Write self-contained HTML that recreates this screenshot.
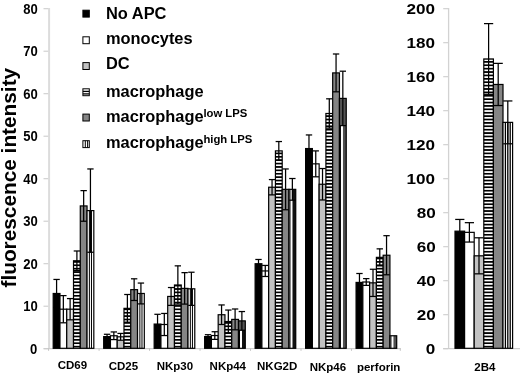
<!DOCTYPE html>
<html><head><meta charset="utf-8"><title>chart</title>
<style>
html,body{margin:0;padding:0;background:#fff;}
body{filter:blur(0.4px);width:520px;height:373px;position:relative;overflow:hidden;font-family:"Liberation Sans",sans-serif;font-weight:bold;color:#000;}
.t{position:absolute;white-space:nowrap;line-height:1;}
.yl{font-size:15px;transform-origin:100% 50%;transform:scaleX(0.87);text-align:right;}
.yr{font-size:15px;transform-origin:100% 50%;transform:scaleX(1.14);text-align:right;}
.lg{font-size:16px;left:105.9px;transform-origin:0 50%;transform:scaleX(1.025);}
.sp{font-size:11.3px;left:203.4px;}
.xl{font-size:11.5px;transform:translateX(-50%);}
</style></head><body>
<svg width="520" height="373" viewBox="0 0 520 373" style="position:absolute;left:0;top:0">
<defs>
<pattern id="hs" width="12" height="3.39" patternUnits="userSpaceOnUse"><rect x="0" y="0" width="12" height="1.7" fill="#000"/></pattern>
</defs>
<line x1="49.1" y1="8" x2="49.1" y2="348.8" stroke="#dcdcdc" stroke-width="2"/>
<line x1="43.7" y1="348.7" x2="400.8" y2="348.7" stroke="#cdcdcd" stroke-width="1.2"/>
<line x1="43.5" y1="348.7" x2="48.2" y2="348.7" stroke="#cdcdcd" stroke-width="1.1"/>
<line x1="43.5" y1="306.2" x2="48.2" y2="306.2" stroke="#cdcdcd" stroke-width="1.1"/>
<line x1="43.5" y1="263.7" x2="48.2" y2="263.7" stroke="#cdcdcd" stroke-width="1.1"/>
<line x1="43.5" y1="221.2" x2="48.2" y2="221.2" stroke="#cdcdcd" stroke-width="1.1"/>
<line x1="43.5" y1="178.7" x2="48.2" y2="178.7" stroke="#cdcdcd" stroke-width="1.1"/>
<line x1="43.5" y1="136.2" x2="48.2" y2="136.2" stroke="#cdcdcd" stroke-width="1.1"/>
<line x1="43.5" y1="93.7" x2="48.2" y2="93.7" stroke="#cdcdcd" stroke-width="1.1"/>
<line x1="43.5" y1="51.2" x2="48.2" y2="51.2" stroke="#cdcdcd" stroke-width="1.1"/>
<line x1="43.5" y1="8.7" x2="48.2" y2="8.7" stroke="#cdcdcd" stroke-width="1.1"/>
<line x1="48.6" y1="348.3" x2="48.6" y2="350.8" stroke="#c4c4c4" stroke-width="1"/>
<line x1="99.08" y1="348.3" x2="99.08" y2="350.8" stroke="#c4c4c4" stroke-width="1"/>
<line x1="149.56" y1="348.3" x2="149.56" y2="350.8" stroke="#c4c4c4" stroke-width="1"/>
<line x1="200.04" y1="348.3" x2="200.04" y2="350.8" stroke="#c4c4c4" stroke-width="1"/>
<line x1="250.52" y1="348.3" x2="250.52" y2="350.8" stroke="#c4c4c4" stroke-width="1"/>
<line x1="301" y1="348.3" x2="301" y2="350.8" stroke="#c4c4c4" stroke-width="1"/>
<line x1="351.48" y1="348.3" x2="351.48" y2="350.8" stroke="#c4c4c4" stroke-width="1"/>
<line x1="400.3" y1="348.3" x2="400.3" y2="350.8" stroke="#c4c4c4" stroke-width="1"/>
<line x1="448.6" y1="8" x2="448.6" y2="348.8" stroke="#d2d2d2" stroke-width="1.3"/>
<line x1="443.2" y1="348.7" x2="520" y2="348.7" stroke="#cdcdcd" stroke-width="1.2"/>
<line x1="443.2" y1="348.7" x2="448" y2="348.7" stroke="#cdcdcd" stroke-width="1.1"/>
<line x1="443.2" y1="314.7" x2="448" y2="314.7" stroke="#cdcdcd" stroke-width="1.1"/>
<line x1="443.2" y1="280.7" x2="448" y2="280.7" stroke="#cdcdcd" stroke-width="1.1"/>
<line x1="443.2" y1="246.7" x2="448" y2="246.7" stroke="#cdcdcd" stroke-width="1.1"/>
<line x1="443.2" y1="212.7" x2="448" y2="212.7" stroke="#cdcdcd" stroke-width="1.1"/>
<line x1="443.2" y1="178.7" x2="448" y2="178.7" stroke="#cdcdcd" stroke-width="1.1"/>
<line x1="443.2" y1="144.7" x2="448" y2="144.7" stroke="#cdcdcd" stroke-width="1.1"/>
<line x1="443.2" y1="110.7" x2="448" y2="110.7" stroke="#cdcdcd" stroke-width="1.1"/>
<line x1="443.2" y1="76.7" x2="448" y2="76.7" stroke="#cdcdcd" stroke-width="1.1"/>
<line x1="443.2" y1="42.7" x2="448" y2="42.7" stroke="#cdcdcd" stroke-width="1.1"/>
<line x1="443.2" y1="8.7" x2="448" y2="8.7" stroke="#cdcdcd" stroke-width="1.1"/>
<rect x="53.2" y="293.48" width="6.77" height="54.82" fill="#000"/>
<rect x="53.2" y="293.48" width="6.77" height="54.82" fill="none" stroke="#000" stroke-width="1.2"/>
<line x1="56.59" y1="279.45" x2="56.59" y2="307.5" stroke="#000" stroke-width="1.25"/>
<line x1="53.4" y1="279.45" x2="59.77" y2="279.45" stroke="#000" stroke-width="1.25"/>
<line x1="53.4" y1="307.5" x2="59.77" y2="307.5" stroke="#000" stroke-width="1.25"/>
<rect x="59.97" y="309.2" width="6.77" height="39.1" fill="#fff"/>
<rect x="59.97" y="309.2" width="6.77" height="39.1" fill="none" stroke="#000" stroke-width="1.2"/>
<line x1="63.35" y1="295.6" x2="63.35" y2="322.8" stroke="#000" stroke-width="1.25"/>
<line x1="60.17" y1="295.6" x2="66.54" y2="295.6" stroke="#000" stroke-width="1.25"/>
<line x1="60.17" y1="322.8" x2="66.54" y2="322.8" stroke="#000" stroke-width="1.25"/>
<rect x="66.74" y="309.2" width="6.77" height="10.62" fill="#f0f0f0"/>
<rect x="66.74" y="319.82" width="6.77" height="28.48" fill="#c2c2c2"/>
<rect x="66.74" y="309.2" width="6.77" height="39.1" fill="none" stroke="#000" stroke-width="1.2"/>
<line x1="70.12" y1="298.58" x2="70.12" y2="319.82" stroke="#000" stroke-width="1.25"/>
<line x1="66.94" y1="298.58" x2="73.31" y2="298.58" stroke="#000" stroke-width="1.25"/>
<line x1="66.94" y1="319.82" x2="73.31" y2="319.82" stroke="#000" stroke-width="1.25"/>
<rect x="73.51" y="260.75" width="6.77" height="87.55" fill="#fff"/>
<rect x="73.51" y="260.75" width="6.77" height="87.55" fill="url(#hs)"/>
<rect x="73.51" y="260.75" width="6.77" height="87.55" fill="none" stroke="#000" stroke-width="1.2"/>
<line x1="76.9" y1="250.98" x2="76.9" y2="270.52" stroke="#000" stroke-width="1.25"/>
<line x1="73.71" y1="250.98" x2="80.08" y2="250.98" stroke="#000" stroke-width="1.25"/>
<line x1="73.71" y1="270.52" x2="80.08" y2="270.52" stroke="#000" stroke-width="1.25"/>
<rect x="80.28" y="205.93" width="6.77" height="142.38" fill="#858585"/>
<rect x="80.28" y="205.93" width="6.77" height="142.38" fill="none" stroke="#000" stroke-width="1.2"/>
<line x1="83.66" y1="190.62" x2="83.66" y2="221.23" stroke="#000" stroke-width="1.25"/>
<line x1="80.48" y1="190.62" x2="86.85" y2="190.62" stroke="#000" stroke-width="1.25"/>
<line x1="80.48" y1="221.23" x2="86.85" y2="221.23" stroke="#000" stroke-width="1.25"/>
<rect x="87.05" y="210.6" width="6.77" height="137.7" fill="#fff"/>
<line x1="89.39" y1="210.6" x2="89.39" y2="348.3" stroke="#000" stroke-width="1.0"/>
<line x1="91.48" y1="210.6" x2="91.48" y2="348.3" stroke="#000" stroke-width="1.0"/>
<rect x="87.05" y="210.6" width="6.77" height="137.7" fill="none" stroke="#000" stroke-width="1.2"/>
<line x1="90.44" y1="168.95" x2="90.44" y2="252.25" stroke="#000" stroke-width="1.25"/>
<line x1="87.25" y1="168.95" x2="93.62" y2="168.95" stroke="#000" stroke-width="1.25"/>
<line x1="87.25" y1="252.25" x2="93.62" y2="252.25" stroke="#000" stroke-width="1.25"/>
<rect x="103.68" y="336.61" width="6.77" height="11.69" fill="#000"/>
<rect x="103.68" y="336.61" width="6.77" height="11.69" fill="none" stroke="#000" stroke-width="1.2"/>
<line x1="107.06" y1="334.28" x2="107.06" y2="338.95" stroke="#000" stroke-width="1.25"/>
<line x1="103.88" y1="334.28" x2="110.25" y2="334.28" stroke="#000" stroke-width="1.25"/>
<line x1="103.88" y1="338.95" x2="110.25" y2="338.95" stroke="#000" stroke-width="1.25"/>
<rect x="110.45" y="335.76" width="6.77" height="12.54" fill="#fff"/>
<rect x="110.45" y="335.76" width="6.77" height="12.54" fill="none" stroke="#000" stroke-width="1.2"/>
<line x1="113.84" y1="331.94" x2="113.84" y2="339.59" stroke="#000" stroke-width="1.25"/>
<line x1="110.65" y1="331.94" x2="117.02" y2="331.94" stroke="#000" stroke-width="1.25"/>
<line x1="110.65" y1="339.59" x2="117.02" y2="339.59" stroke="#000" stroke-width="1.25"/>
<rect x="117.22" y="336.82" width="6.77" height="3.4" fill="#f0f0f0"/>
<rect x="117.22" y="340.23" width="6.77" height="8.07" fill="#c2c2c2"/>
<rect x="117.22" y="336.82" width="6.77" height="11.48" fill="none" stroke="#000" stroke-width="1.2"/>
<line x1="120.6" y1="333.43" x2="120.6" y2="340.23" stroke="#000" stroke-width="1.25"/>
<line x1="117.42" y1="333.43" x2="123.79" y2="333.43" stroke="#000" stroke-width="1.25"/>
<line x1="117.42" y1="340.23" x2="123.79" y2="340.23" stroke="#000" stroke-width="1.25"/>
<rect x="123.99" y="308.35" width="6.77" height="39.95" fill="#fff"/>
<rect x="123.99" y="308.35" width="6.77" height="39.95" fill="url(#hs)"/>
<rect x="123.99" y="308.35" width="6.77" height="39.95" fill="none" stroke="#000" stroke-width="1.2"/>
<line x1="127.38" y1="294.5" x2="127.38" y2="322.2" stroke="#000" stroke-width="1.25"/>
<line x1="124.19" y1="294.5" x2="130.56" y2="294.5" stroke="#000" stroke-width="1.25"/>
<line x1="124.19" y1="322.2" x2="130.56" y2="322.2" stroke="#000" stroke-width="1.25"/>
<rect x="130.76" y="289.65" width="6.77" height="58.65" fill="#858585"/>
<rect x="130.76" y="289.65" width="6.77" height="58.65" fill="none" stroke="#000" stroke-width="1.2"/>
<line x1="134.14" y1="278.81" x2="134.14" y2="300.49" stroke="#000" stroke-width="1.25"/>
<line x1="130.96" y1="278.81" x2="137.33" y2="278.81" stroke="#000" stroke-width="1.25"/>
<line x1="130.96" y1="300.49" x2="137.33" y2="300.49" stroke="#000" stroke-width="1.25"/>
<rect x="137.53" y="293.48" width="6.77" height="54.82" fill="#fff"/>
<line x1="139.86" y1="293.48" x2="139.86" y2="348.3" stroke="#000" stroke-width="1.0"/>
<line x1="141.97" y1="293.48" x2="141.97" y2="348.3" stroke="#000" stroke-width="1.0"/>
<rect x="137.53" y="293.48" width="6.77" height="54.82" fill="none" stroke="#000" stroke-width="1.2"/>
<line x1="140.92" y1="283.06" x2="140.92" y2="303.89" stroke="#000" stroke-width="1.25"/>
<line x1="137.73" y1="283.06" x2="144.1" y2="283.06" stroke="#000" stroke-width="1.25"/>
<line x1="137.73" y1="303.89" x2="144.1" y2="303.89" stroke="#000" stroke-width="1.25"/>
<rect x="154.16" y="324.07" width="6.77" height="24.23" fill="#000"/>
<rect x="154.16" y="324.07" width="6.77" height="24.23" fill="none" stroke="#000" stroke-width="1.2"/>
<line x1="157.55" y1="314.3" x2="157.55" y2="333.85" stroke="#000" stroke-width="1.25"/>
<line x1="154.36" y1="314.3" x2="160.73" y2="314.3" stroke="#000" stroke-width="1.25"/>
<line x1="154.36" y1="333.85" x2="160.73" y2="333.85" stroke="#000" stroke-width="1.25"/>
<rect x="160.93" y="324.5" width="6.77" height="23.8" fill="#fff"/>
<rect x="160.93" y="324.5" width="6.77" height="23.8" fill="none" stroke="#000" stroke-width="1.2"/>
<line x1="164.31" y1="313.45" x2="164.31" y2="335.55" stroke="#000" stroke-width="1.25"/>
<line x1="161.13" y1="313.45" x2="167.5" y2="313.45" stroke="#000" stroke-width="1.25"/>
<line x1="161.13" y1="335.55" x2="167.5" y2="335.55" stroke="#000" stroke-width="1.25"/>
<rect x="167.7" y="296.45" width="6.77" height="51.85" fill="#c2c2c2"/>
<rect x="167.7" y="296.45" width="6.77" height="51.85" fill="none" stroke="#000" stroke-width="1.2"/>
<line x1="171.08" y1="287.53" x2="171.08" y2="305.38" stroke="#000" stroke-width="1.25"/>
<line x1="167.9" y1="287.53" x2="174.27" y2="287.53" stroke="#000" stroke-width="1.25"/>
<line x1="167.9" y1="305.38" x2="174.27" y2="305.38" stroke="#000" stroke-width="1.25"/>
<rect x="174.47" y="284.98" width="6.77" height="63.32" fill="#fff"/>
<rect x="174.47" y="284.98" width="6.77" height="63.32" fill="url(#hs)"/>
<rect x="174.47" y="284.98" width="6.77" height="63.32" fill="none" stroke="#000" stroke-width="1.2"/>
<line x1="177.86" y1="265.85" x2="177.86" y2="304.1" stroke="#000" stroke-width="1.25"/>
<line x1="174.67" y1="265.85" x2="181.04" y2="265.85" stroke="#000" stroke-width="1.25"/>
<line x1="174.67" y1="304.1" x2="181.04" y2="304.1" stroke="#000" stroke-width="1.25"/>
<rect x="181.24" y="288.38" width="6.77" height="59.93" fill="#858585"/>
<rect x="181.24" y="288.38" width="6.77" height="59.93" fill="none" stroke="#000" stroke-width="1.2"/>
<line x1="184.62" y1="272.65" x2="184.62" y2="304.1" stroke="#000" stroke-width="1.25"/>
<line x1="181.44" y1="272.65" x2="187.81" y2="272.65" stroke="#000" stroke-width="1.25"/>
<line x1="181.44" y1="304.1" x2="187.81" y2="304.1" stroke="#000" stroke-width="1.25"/>
<rect x="188.01" y="288.8" width="6.77" height="59.5" fill="#fff"/>
<line x1="190.34" y1="288.8" x2="190.34" y2="348.3" stroke="#000" stroke-width="1.0"/>
<line x1="192.44" y1="288.8" x2="192.44" y2="348.3" stroke="#000" stroke-width="1.0"/>
<rect x="188.01" y="288.8" width="6.77" height="59.5" fill="none" stroke="#000" stroke-width="1.2"/>
<line x1="191.39" y1="272.23" x2="191.39" y2="305.38" stroke="#000" stroke-width="1.25"/>
<line x1="188.21" y1="272.23" x2="194.58" y2="272.23" stroke="#000" stroke-width="1.25"/>
<line x1="188.21" y1="305.38" x2="194.58" y2="305.38" stroke="#000" stroke-width="1.25"/>
<rect x="204.64" y="336.61" width="6.77" height="11.69" fill="#000"/>
<rect x="204.64" y="336.61" width="6.77" height="11.69" fill="none" stroke="#000" stroke-width="1.2"/>
<line x1="208.02" y1="334.7" x2="208.02" y2="338.53" stroke="#000" stroke-width="1.25"/>
<line x1="204.84" y1="334.7" x2="211.21" y2="334.7" stroke="#000" stroke-width="1.25"/>
<line x1="204.84" y1="338.53" x2="211.21" y2="338.53" stroke="#000" stroke-width="1.25"/>
<rect x="211.41" y="335.55" width="6.77" height="12.75" fill="#fff"/>
<rect x="211.41" y="335.55" width="6.77" height="12.75" fill="none" stroke="#000" stroke-width="1.2"/>
<line x1="214.8" y1="331.73" x2="214.8" y2="339.38" stroke="#000" stroke-width="1.25"/>
<line x1="211.61" y1="331.73" x2="217.98" y2="331.73" stroke="#000" stroke-width="1.25"/>
<line x1="211.61" y1="339.38" x2="217.98" y2="339.38" stroke="#000" stroke-width="1.25"/>
<rect x="218.18" y="314.73" width="6.77" height="33.57" fill="#c2c2c2"/>
<rect x="218.18" y="314.73" width="6.77" height="33.57" fill="none" stroke="#000" stroke-width="1.2"/>
<line x1="221.56" y1="304.95" x2="221.56" y2="324.5" stroke="#000" stroke-width="1.25"/>
<line x1="218.38" y1="304.95" x2="224.75" y2="304.95" stroke="#000" stroke-width="1.25"/>
<line x1="218.38" y1="324.5" x2="224.75" y2="324.5" stroke="#000" stroke-width="1.25"/>
<rect x="224.95" y="321.53" width="6.77" height="26.77" fill="#fff"/>
<rect x="224.95" y="321.53" width="6.77" height="26.77" fill="url(#hs)"/>
<rect x="224.95" y="321.53" width="6.77" height="26.77" fill="none" stroke="#000" stroke-width="1.2"/>
<line x1="228.33" y1="310.05" x2="228.33" y2="333" stroke="#000" stroke-width="1.25"/>
<line x1="225.15" y1="310.05" x2="231.52" y2="310.05" stroke="#000" stroke-width="1.25"/>
<line x1="225.15" y1="333" x2="231.52" y2="333" stroke="#000" stroke-width="1.25"/>
<rect x="231.72" y="319.4" width="6.77" height="28.9" fill="#858585"/>
<rect x="231.72" y="319.4" width="6.77" height="28.9" fill="none" stroke="#000" stroke-width="1.2"/>
<line x1="235.1" y1="308.99" x2="235.1" y2="329.81" stroke="#000" stroke-width="1.25"/>
<line x1="231.92" y1="308.99" x2="238.29" y2="308.99" stroke="#000" stroke-width="1.25"/>
<line x1="231.92" y1="329.81" x2="238.29" y2="329.81" stroke="#000" stroke-width="1.25"/>
<rect x="238.49" y="320.89" width="6.77" height="27.41" fill="#fff"/>
<rect x="238.99" y="320.89" width="1" height="27.41" fill="#000"/>
<rect x="242.01" y="320.89" width="3.25" height="27.41" fill="#111"/>
<rect x="238.49" y="320.89" width="6.77" height="9.35" fill="#555"/>
<rect x="238.49" y="320.89" width="6.77" height="27.41" fill="none" stroke="#000" stroke-width="1.2"/>
<line x1="241.88" y1="311.54" x2="241.88" y2="330.24" stroke="#000" stroke-width="1.25"/>
<line x1="238.69" y1="311.54" x2="245.06" y2="311.54" stroke="#000" stroke-width="1.25"/>
<line x1="238.69" y1="330.24" x2="245.06" y2="330.24" stroke="#000" stroke-width="1.25"/>
<rect x="255.12" y="263.73" width="6.77" height="84.57" fill="#000"/>
<rect x="255.12" y="263.73" width="6.77" height="84.57" fill="none" stroke="#000" stroke-width="1.2"/>
<line x1="258.5" y1="259.48" x2="258.5" y2="267.98" stroke="#000" stroke-width="1.25"/>
<line x1="255.32" y1="259.48" x2="261.69" y2="259.48" stroke="#000" stroke-width="1.25"/>
<line x1="255.32" y1="267.98" x2="261.69" y2="267.98" stroke="#000" stroke-width="1.25"/>
<rect x="261.89" y="270.95" width="6.77" height="77.35" fill="#fff"/>
<rect x="261.89" y="270.95" width="6.77" height="77.35" fill="none" stroke="#000" stroke-width="1.2"/>
<line x1="265.27" y1="265.43" x2="265.27" y2="276.48" stroke="#000" stroke-width="1.25"/>
<line x1="262.09" y1="265.43" x2="268.46" y2="265.43" stroke="#000" stroke-width="1.25"/>
<line x1="262.09" y1="276.48" x2="268.46" y2="276.48" stroke="#000" stroke-width="1.25"/>
<rect x="268.66" y="187.23" width="6.77" height="161.07" fill="#c2c2c2"/>
<rect x="268.66" y="187.23" width="6.77" height="161.07" fill="none" stroke="#000" stroke-width="1.2"/>
<line x1="272.05" y1="179.58" x2="272.05" y2="194.88" stroke="#000" stroke-width="1.25"/>
<line x1="268.86" y1="179.58" x2="275.23" y2="179.58" stroke="#000" stroke-width="1.25"/>
<line x1="268.86" y1="194.88" x2="275.23" y2="194.88" stroke="#000" stroke-width="1.25"/>
<rect x="275.43" y="150.89" width="6.77" height="197.41" fill="#fff"/>
<rect x="275.43" y="150.89" width="6.77" height="197.41" fill="url(#hs)"/>
<rect x="275.43" y="150.89" width="6.77" height="197.41" fill="none" stroke="#000" stroke-width="1.2"/>
<line x1="278.81" y1="141.54" x2="278.81" y2="160.24" stroke="#000" stroke-width="1.25"/>
<line x1="275.63" y1="141.54" x2="282" y2="141.54" stroke="#000" stroke-width="1.25"/>
<line x1="275.63" y1="160.24" x2="282" y2="160.24" stroke="#000" stroke-width="1.25"/>
<rect x="282.2" y="189.35" width="6.77" height="158.95" fill="#858585"/>
<rect x="282.2" y="189.35" width="6.77" height="158.95" fill="none" stroke="#000" stroke-width="1.2"/>
<line x1="285.58" y1="168.95" x2="285.58" y2="209.75" stroke="#000" stroke-width="1.25"/>
<line x1="282.4" y1="168.95" x2="288.77" y2="168.95" stroke="#000" stroke-width="1.25"/>
<line x1="282.4" y1="209.75" x2="288.77" y2="209.75" stroke="#000" stroke-width="1.25"/>
<rect x="288.97" y="189.35" width="6.77" height="158.95" fill="#fff"/>
<rect x="289.47" y="189.35" width="1" height="158.95" fill="#000"/>
<rect x="292.49" y="189.35" width="3.25" height="158.95" fill="#111"/>
<rect x="288.97" y="189.35" width="6.77" height="158.95" fill="none" stroke="#000" stroke-width="1.2"/>
<line x1="292.36" y1="178.51" x2="292.36" y2="200.19" stroke="#000" stroke-width="1.25"/>
<line x1="289.17" y1="178.51" x2="295.54" y2="178.51" stroke="#000" stroke-width="1.25"/>
<line x1="289.17" y1="200.19" x2="295.54" y2="200.19" stroke="#000" stroke-width="1.25"/>
<rect x="305.6" y="148.55" width="6.77" height="199.75" fill="#000"/>
<rect x="305.6" y="148.55" width="6.77" height="199.75" fill="none" stroke="#000" stroke-width="1.2"/>
<line x1="308.98" y1="134.95" x2="308.98" y2="162.15" stroke="#000" stroke-width="1.25"/>
<line x1="305.8" y1="134.95" x2="312.17" y2="134.95" stroke="#000" stroke-width="1.25"/>
<line x1="305.8" y1="162.15" x2="312.17" y2="162.15" stroke="#000" stroke-width="1.25"/>
<rect x="312.37" y="163.85" width="6.77" height="184.45" fill="#fff"/>
<rect x="312.37" y="163.85" width="6.77" height="184.45" fill="none" stroke="#000" stroke-width="1.2"/>
<line x1="315.75" y1="150.89" x2="315.75" y2="176.81" stroke="#000" stroke-width="1.25"/>
<line x1="312.57" y1="150.89" x2="318.94" y2="150.89" stroke="#000" stroke-width="1.25"/>
<line x1="312.57" y1="176.81" x2="318.94" y2="176.81" stroke="#000" stroke-width="1.25"/>
<rect x="319.14" y="184.25" width="6.77" height="164.05" fill="#c2c2c2"/>
<rect x="319.14" y="184.25" width="6.77" height="164.05" fill="none" stroke="#000" stroke-width="1.2"/>
<line x1="322.52" y1="168.53" x2="322.52" y2="199.98" stroke="#000" stroke-width="1.25"/>
<line x1="319.34" y1="168.53" x2="325.71" y2="168.53" stroke="#000" stroke-width="1.25"/>
<line x1="319.34" y1="199.98" x2="325.71" y2="199.98" stroke="#000" stroke-width="1.25"/>
<rect x="325.91" y="113.49" width="6.77" height="234.81" fill="#fff"/>
<rect x="325.91" y="113.49" width="6.77" height="234.81" fill="url(#hs)"/>
<rect x="325.91" y="113.49" width="6.77" height="234.81" fill="none" stroke="#000" stroke-width="1.2"/>
<line x1="329.29" y1="98.82" x2="329.29" y2="128.15" stroke="#000" stroke-width="1.25"/>
<line x1="326.11" y1="98.82" x2="332.48" y2="98.82" stroke="#000" stroke-width="1.25"/>
<line x1="326.11" y1="128.15" x2="332.48" y2="128.15" stroke="#000" stroke-width="1.25"/>
<rect x="332.68" y="72.9" width="6.77" height="275.4" fill="#858585"/>
<rect x="332.68" y="72.9" width="6.77" height="275.4" fill="none" stroke="#000" stroke-width="1.2"/>
<line x1="336.06" y1="53.99" x2="336.06" y2="91.81" stroke="#000" stroke-width="1.25"/>
<line x1="332.88" y1="53.99" x2="339.25" y2="53.99" stroke="#000" stroke-width="1.25"/>
<line x1="332.88" y1="91.81" x2="339.25" y2="91.81" stroke="#000" stroke-width="1.25"/>
<rect x="339.45" y="98.4" width="6.77" height="249.9" fill="#fff"/>
<rect x="339.95" y="98.4" width="1" height="249.9" fill="#000"/>
<rect x="342.97" y="98.4" width="3.25" height="249.9" fill="#505050"/>
<rect x="339.45" y="98.4" width="6.77" height="27.2" fill="#555"/>
<rect x="339.45" y="98.4" width="6.77" height="249.9" fill="none" stroke="#000" stroke-width="1.2"/>
<line x1="342.83" y1="71.2" x2="342.83" y2="125.6" stroke="#000" stroke-width="1.25"/>
<line x1="339.65" y1="71.2" x2="346.02" y2="71.2" stroke="#000" stroke-width="1.25"/>
<line x1="339.65" y1="125.6" x2="346.02" y2="125.6" stroke="#000" stroke-width="1.25"/>
<rect x="356.08" y="282.43" width="6.77" height="65.88" fill="#000"/>
<rect x="356.08" y="282.43" width="6.77" height="65.88" fill="none" stroke="#000" stroke-width="1.2"/>
<line x1="359.46" y1="273.5" x2="359.46" y2="291.35" stroke="#000" stroke-width="1.25"/>
<line x1="356.28" y1="273.5" x2="362.65" y2="273.5" stroke="#000" stroke-width="1.25"/>
<line x1="356.28" y1="291.35" x2="362.65" y2="291.35" stroke="#000" stroke-width="1.25"/>
<rect x="362.85" y="282" width="6.77" height="66.3" fill="#fff"/>
<rect x="362.85" y="282" width="6.77" height="66.3" fill="none" stroke="#000" stroke-width="1.2"/>
<line x1="366.23" y1="278.6" x2="366.23" y2="285.4" stroke="#000" stroke-width="1.25"/>
<line x1="363.05" y1="278.6" x2="369.42" y2="278.6" stroke="#000" stroke-width="1.25"/>
<line x1="363.05" y1="285.4" x2="369.42" y2="285.4" stroke="#000" stroke-width="1.25"/>
<rect x="369.62" y="282.85" width="6.77" height="65.45" fill="#c2c2c2"/>
<rect x="369.62" y="282.85" width="6.77" height="65.45" fill="none" stroke="#000" stroke-width="1.2"/>
<line x1="373" y1="269.25" x2="373" y2="296.45" stroke="#000" stroke-width="1.25"/>
<line x1="369.82" y1="269.25" x2="376.19" y2="269.25" stroke="#000" stroke-width="1.25"/>
<line x1="369.82" y1="296.45" x2="376.19" y2="296.45" stroke="#000" stroke-width="1.25"/>
<rect x="376.39" y="257.35" width="6.77" height="90.95" fill="#fff"/>
<rect x="376.39" y="257.35" width="6.77" height="90.95" fill="url(#hs)"/>
<rect x="376.39" y="257.35" width="6.77" height="90.95" fill="none" stroke="#000" stroke-width="1.2"/>
<line x1="379.77" y1="248.85" x2="379.77" y2="265.85" stroke="#000" stroke-width="1.25"/>
<line x1="376.59" y1="248.85" x2="382.96" y2="248.85" stroke="#000" stroke-width="1.25"/>
<line x1="376.59" y1="265.85" x2="382.96" y2="265.85" stroke="#000" stroke-width="1.25"/>
<rect x="383.16" y="255.23" width="6.77" height="93.07" fill="#858585"/>
<rect x="383.16" y="255.23" width="6.77" height="93.07" fill="none" stroke="#000" stroke-width="1.2"/>
<line x1="386.54" y1="235.68" x2="386.54" y2="274.78" stroke="#000" stroke-width="1.25"/>
<line x1="383.36" y1="235.68" x2="389.73" y2="235.68" stroke="#000" stroke-width="1.25"/>
<line x1="383.36" y1="274.78" x2="389.73" y2="274.78" stroke="#000" stroke-width="1.25"/>
<rect x="389.93" y="335.76" width="6.77" height="12.54" fill="#fff"/>
<rect x="390.43" y="335.76" width="1" height="12.54" fill="#000"/>
<rect x="393.45" y="335.76" width="3.25" height="12.54" fill="#505050"/>
<rect x="389.93" y="335.76" width="6.77" height="12.54" fill="none" stroke="#000" stroke-width="1.2"/>
<rect x="455" y="231.17" width="9.6" height="117.13" fill="#000"/>
<rect x="455" y="231.17" width="9.6" height="117.13" fill="none" stroke="#000" stroke-width="1.2"/>
<line x1="459.8" y1="219.44" x2="459.8" y2="242.9" stroke="#000" stroke-width="1.25"/>
<line x1="455.2" y1="219.44" x2="464.4" y2="219.44" stroke="#000" stroke-width="1.25"/>
<line x1="455.2" y1="242.9" x2="464.4" y2="242.9" stroke="#000" stroke-width="1.25"/>
<rect x="464.6" y="232.36" width="9.6" height="115.94" fill="#fff"/>
<rect x="464.6" y="232.36" width="9.6" height="115.94" fill="none" stroke="#000" stroke-width="1.2"/>
<line x1="469.4" y1="222.67" x2="469.4" y2="242.05" stroke="#000" stroke-width="1.25"/>
<line x1="464.8" y1="222.67" x2="474" y2="222.67" stroke="#000" stroke-width="1.25"/>
<line x1="464.8" y1="242.05" x2="474" y2="242.05" stroke="#000" stroke-width="1.25"/>
<rect x="474.2" y="255.82" width="9.6" height="92.48" fill="#c2c2c2"/>
<rect x="474.2" y="255.82" width="9.6" height="92.48" fill="none" stroke="#000" stroke-width="1.2"/>
<line x1="479" y1="237.8" x2="479" y2="273.84" stroke="#000" stroke-width="1.25"/>
<line x1="474.4" y1="237.8" x2="483.6" y2="237.8" stroke="#000" stroke-width="1.25"/>
<line x1="474.4" y1="273.84" x2="483.6" y2="273.84" stroke="#000" stroke-width="1.25"/>
<rect x="483.8" y="58.96" width="9.6" height="289.34" fill="#fff"/>
<rect x="483.8" y="58.96" width="9.6" height="289.34" fill="url(#hs)"/>
<rect x="483.8" y="58.96" width="9.6" height="289.34" fill="none" stroke="#000" stroke-width="1.2"/>
<line x1="488.6" y1="23.6" x2="488.6" y2="94.32" stroke="#000" stroke-width="1.25"/>
<line x1="484" y1="23.6" x2="493.2" y2="23.6" stroke="#000" stroke-width="1.25"/>
<line x1="484" y1="94.32" x2="493.2" y2="94.32" stroke="#000" stroke-width="1.25"/>
<rect x="493.4" y="84.46" width="9.6" height="263.84" fill="#858585"/>
<rect x="493.4" y="84.46" width="9.6" height="263.84" fill="none" stroke="#000" stroke-width="1.2"/>
<line x1="498.2" y1="63.38" x2="498.2" y2="105.54" stroke="#000" stroke-width="1.25"/>
<line x1="493.6" y1="63.38" x2="502.8" y2="63.38" stroke="#000" stroke-width="1.25"/>
<line x1="493.6" y1="105.54" x2="502.8" y2="105.54" stroke="#000" stroke-width="1.25"/>
<rect x="503" y="122.37" width="9.6" height="225.93" fill="#fff"/>
<line x1="505.4" y1="122.37" x2="505.4" y2="348.3" stroke="#000" stroke-width="1.3"/>
<line x1="507.8" y1="122.37" x2="507.8" y2="348.3" stroke="#000" stroke-width="1.3"/>
<line x1="510.2" y1="122.37" x2="510.2" y2="348.3" stroke="#000" stroke-width="1.3"/>
<rect x="503" y="122.37" width="9.6" height="225.93" fill="none" stroke="#000" stroke-width="1.2"/>
<line x1="507.8" y1="100.95" x2="507.8" y2="143.79" stroke="#000" stroke-width="1.25"/>
<line x1="503.2" y1="100.95" x2="512.4" y2="100.95" stroke="#000" stroke-width="1.25"/>
<line x1="503.2" y1="143.79" x2="512.4" y2="143.79" stroke="#000" stroke-width="1.25"/>
<rect x="82.9" y="10.2" width="6.4" height="6.9" fill="#000" stroke="#000" stroke-width="1"/>
<rect x="82.9" y="36.8" width="6.4" height="6.9" fill="#fff" stroke="#000" stroke-width="1"/>
<rect x="82.9" y="62.6" width="6.4" height="6.9" fill="#c2c2c2" stroke="#000" stroke-width="1"/>
<rect x="82.9" y="88.8" width="6.4" height="6.9" fill="#fff" stroke="#000" stroke-width="1"/>
<line x1="82.9" y1="91.4" x2="89.30000000000001" y2="91.4" stroke="#000" stroke-width="1.3"/>
<line x1="82.9" y1="93.9" x2="89.30000000000001" y2="93.9" stroke="#000" stroke-width="1.3"/>
<rect x="82.9" y="114.1" width="6.4" height="6.9" fill="#858585" stroke="#000" stroke-width="1"/>
<rect x="82.9" y="140.7" width="6.4" height="6.9" fill="#fff" stroke="#000" stroke-width="1"/>
<line x1="85.3" y1="140.7" x2="85.3" y2="147.6" stroke="#000" stroke-width="1"/>
<line x1="87.6" y1="140.7" x2="87.6" y2="147.6" stroke="#000" stroke-width="1"/>
</svg>
<div class="t yl" style="right:482.4px;top:341px">0</div>
<div class="t yl" style="right:482.4px;top:298px">10</div>
<div class="t yl" style="right:482.4px;top:256px">20</div>
<div class="t yl" style="right:482.4px;top:213px">30</div>
<div class="t yl" style="right:482.4px;top:171px">40</div>
<div class="t yl" style="right:482.4px;top:128px">50</div>
<div class="t yl" style="right:482.4px;top:86px">60</div>
<div class="t yl" style="right:482.4px;top:43px">70</div>
<div class="t yl" style="right:482.4px;top:1px">80</div>
<div class="t yr" style="right:84.60000000000002px;top:341px">0</div>
<div class="t yr" style="right:84.60000000000002px;top:307px">20</div>
<div class="t yr" style="right:84.60000000000002px;top:273px">40</div>
<div class="t yr" style="right:84.60000000000002px;top:239px">60</div>
<div class="t yr" style="right:84.60000000000002px;top:205px">80</div>
<div class="t yr" style="right:84.60000000000002px;top:171px">100</div>
<div class="t yr" style="right:84.60000000000002px;top:137px">120</div>
<div class="t yr" style="right:84.60000000000002px;top:103px">140</div>
<div class="t yr" style="right:84.60000000000002px;top:69px">160</div>
<div class="t yr" style="right:84.60000000000002px;top:35px">180</div>
<div class="t yr" style="right:84.60000000000002px;top:1px">200</div>
<div class="t lg" style="top:5.5px">No APC</div>
<div class="t lg" style="top:30.5px">monocytes</div>
<div class="t lg" style="top:55.5px">DC</div>
<div class="t lg" style="top:83.5px">macrophage</div>
<div class="t lg" style="top:108.5px">macrophage</div>
<div class="t lg" style="top:134.5px">macrophage</div>
<div class="t sp" style="top:107.85px">low LPS</div>
<div class="t sp" style="top:134.05px">high LPS</div>
<div class="t xl" style="left:72.4px;top:359.55px">CD69</div>
<div class="t xl" style="left:123.45px;top:360.55px">CD25</div>
<div class="t xl" style="left:174.85px;top:360.55px">NKp30</div>
<div class="t xl" style="left:227.8px;top:360.55px">NKp44</div>
<div class="t xl" style="left:277.2px;top:360.55px">NKG2D</div>
<div class="t xl" style="left:327.9px;top:361.55px">NKp46</div>
<div class="t xl" style="left:378.65px;top:361.55px">perforin</div>
<div class="t xl" style="left:484.9px;top:361.55px">2B4</div>
<div class="t" id="yt" style="font-size:20px;left:0;top:0;transform-origin:0 0;transform:translate(-0.7px,287.5px) rotate(-90deg) scaleX(1.04);">fluorescence intensity</div>
</body></html>
